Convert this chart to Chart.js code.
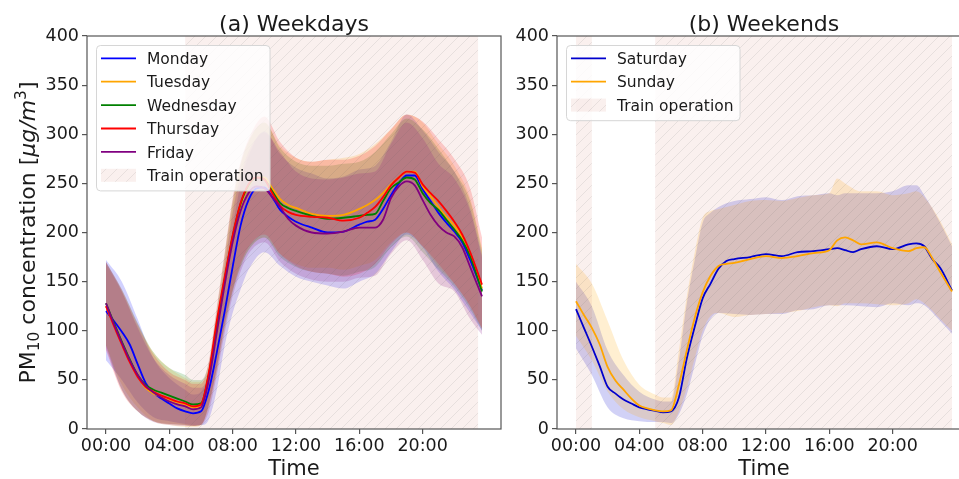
<!DOCTYPE html>
<html>
<head>
<meta charset="utf-8">
<title>PM10 daily profiles</title>
<script src="https://cdn.jsdelivr.net/npm/chart.js@4.4.1/dist/chart.umd.min.js"></script>
<style>
  html, body { margin: 0; padding: 0; background: #fff; overflow: hidden; }
  #wrap { position: relative; width: 959px; height: 479px; overflow: hidden; }
  #weekdays { position: absolute; left: 0; top: 0; width: 510px; height: 479px; }
  #weekends { position: absolute; left: 480px; top: 0; width: 500px; height: 479px; }
</style>
</head>
<body>
<div id="wrap">
  <canvas id="weekdays" width="510" height="479"></canvas>
  <canvas id="weekends" width="500" height="479"></canvas>
</div>
<script>
// hour of day for the mean curves (weekdays)
const weekdayHours = [0, 0.5, 1, 1.5, 2, 2.5, 3, 3.5, 4, 4.5, 5, 5.5, 6, 6.5, 7, 7.5, 8, 8.5, 9, 9.5, 10, 10.5, 11, 11.5, 12,
  13, 14, 15, 16, 16.5, 17, 17.5, 18, 18.5, 19, 19.5, 20, 20.5, 21, 21.5, 22, 22.5, 23, 23.75];

const monday = [120, 110, 99, 86, 66, 47, 37, 31, 26, 21, 18, 16, 18, 40, 78, 120, 165, 207, 233, 245, 246, 236, 223, 216, 211,
  205, 200, 201, 208, 211, 213, 224, 238, 250, 258, 258, 244, 232, 220, 210, 201, 190, 172, 141];
const tuesday = [125, 106, 87, 69, 54, 42, 36, 33, 30, 27, 25, 22, 24, 52, 100, 150, 193, 227, 247, 256, 256, 245, 234, 228, 225,
  219, 217, 218, 224, 228, 233, 240, 249, 256, 262, 262, 247, 237, 226, 216, 207, 195, 178, 143];
const wednesday = [128, 108, 89, 71, 55, 45, 40, 37, 34, 31, 28, 25, 26, 56, 106, 153, 196, 229, 248, 256, 254, 242, 230, 225, 222,
  217, 214, 215, 217, 218, 219, 232, 245, 251, 256, 254, 240, 230, 223, 213, 203, 192, 176, 140];
const thursday = [125, 105, 86, 68, 53, 43, 38, 34, 31, 28, 26, 23, 25, 58, 110, 155, 197, 230, 249, 256, 254, 240, 227, 221, 218,
  216, 215, 212, 215, 220, 226, 236, 248, 256, 262, 261, 249, 240, 232, 222, 211, 198, 180, 147];
const friday = [128, 107, 88, 70, 55, 44, 37, 32, 28, 25, 23, 20, 22, 50, 98, 147, 190, 222, 240, 247, 245, 236, 226, 214, 207,
  200, 199, 201, 205, 205, 205, 213, 235, 247, 252, 248, 233, 218, 207, 200, 196, 185, 165, 135];

// spread around the weekday means
const weekdayBandHours = [0, 1, 2, 3, 4, 5, 5.5, 6, 6.5, 7, 7.5, 8, 8.5, 9, 10, 11, 12, 13, 14, 15, 16, 17, 18, 19, 20, 21, 22, 23, 23.75];

const mondayUpper = [172, 150, 112, 72, 52, 40, 35, 38, 55, 100, 150, 205, 250, 278, 303, 280, 266, 260, 255, 257, 264, 268, 292, 320, 304, 282, 262, 225, 178];
const mondayLower = [70, 50, 27, 12, 8, 5, 4, 4, 10, 40, 85, 118, 142, 162, 180, 166, 155, 150, 146, 143, 150, 158, 180, 198, 185, 160, 142, 118, 100];
const tuesdayUpper = [168, 140, 105, 78, 62, 52, 48, 48, 62, 115, 172, 228, 268, 292, 312, 288, 276, 272, 274, 276, 280, 290, 305, 320, 312, 290, 268, 235, 185];
const tuesdayLower = [85, 45, 22, 8, 4, 2, 2, 4, 22, 58, 102, 140, 165, 182, 195, 178, 168, 164, 164, 162, 166, 172, 190, 200, 186, 165, 148, 125, 102];
const wednesdayUpper = [170, 142, 108, 78, 62, 55, 50, 50, 68, 122, 178, 232, 270, 293, 312, 286, 272, 268, 268, 270, 272, 282, 300, 316, 305, 285, 262, 232, 182];
const wednesdayLower = [85, 40, 18, 8, 5, 4, 3, 4, 25, 62, 105, 140, 165, 182, 195, 175, 165, 160, 158, 156, 160, 165, 185, 196, 180, 162, 145, 122, 100];
const thursdayUpper = [170, 142, 107, 76, 58, 50, 46, 46, 70, 125, 180, 235, 272, 295, 318, 292, 276, 272, 274, 274, 278, 288, 305, 320, 313, 295, 275, 245, 195];
const thursdayLower = [80, 38, 18, 8, 5, 4, 3, 4, 25, 62, 108, 142, 168, 185, 198, 178, 166, 160, 158, 155, 158, 168, 188, 200, 186, 168, 148, 125, 102];
const fridayUpper = [170, 140, 103, 72, 55, 46, 42, 42, 58, 110, 165, 220, 258, 282, 302, 282, 262, 255, 254, 256, 260, 262, 290, 312, 296, 270, 255, 222, 175];
const fridayLower = [82, 40, 18, 7, 4, 3, 3, 4, 18, 55, 98, 135, 160, 178, 190, 170, 158, 152, 150, 150, 154, 156, 178, 192, 172, 148, 140, 112, 96];

// weekend means
const weekendHours = [0, 0.5, 1, 1.5, 2, 2.5, 3, 3.5, 4, 4.5, 5, 5.5, 6, 6.5, 7, 7.5, 8, 8.5, 9, 9.5, 10,
  11, 12, 13, 14, 15, 16, 16.5, 17, 17.5, 18, 19, 20, 21, 21.5, 22, 22.5, 23, 23.75];

const saturday = [122, 103, 84, 64, 43, 36, 30, 26, 22, 20, 18.5, 17, 18, 32, 72, 104, 133, 148, 163, 171, 173,
  175, 178, 176, 180, 181, 183, 184, 182, 180, 183, 186, 183, 188, 189, 186, 173, 164, 141];
const sunday = [130, 116, 103, 86, 63, 49, 40, 31, 24, 21, 19, 18, 19, 45, 80, 113, 139, 156, 166, 168, 169,
  173, 176, 174, 176, 179, 182, 192, 195, 192, 188, 190, 184, 181, 184, 185, 174, 160, 140];

const weekendBandHours = [0, 1, 2, 3, 4, 5, 5.5, 6, 6.5, 7, 7.5, 8, 8.5, 9, 10, 11, 12, 13, 14, 15, 16, 16.5, 17, 18, 19, 20, 21, 21.5, 22, 23, 23.75];

const saturdayUpper = [150, 125, 80, 55, 38, 30, 28, 28, 70, 128, 172, 210, 220, 226, 232, 234, 236, 233, 237, 238, 240, 238, 240, 240, 240, 242, 248, 248, 238, 210, 186];
const saturdayLower = [82, 55, 22, 11, 8, 7, 7, 6, 15, 35, 65, 95, 112, 118, 117, 116, 117, 117, 121, 122, 126, 126, 126, 125, 124, 128, 126, 128, 126, 110, 97];
const sundayUpper = [168, 148, 110, 70, 45, 35, 32, 32, 80, 135, 180, 215, 222, 224, 228, 232, 233, 232, 235, 238, 240, 255, 250, 242, 242, 238, 240, 242, 236, 212, 188];
const sundayLower = [95, 70, 38, 20, 12, 8, 6, 4, 18, 42, 72, 100, 115, 118, 114, 116, 117, 118, 120, 124, 126, 125, 128, 128, 127, 126, 128, 132, 128, 112, 100];

// hours when trains run
const weekdayTrainHours = [[5, 23.5]];
const weekendTrainHours = [[0, 1], [5, 23.75]];

const hourTicks = [0, 4, 8, 12, 16, 20];

const weekdayNames = ["Monday", "Tuesday", "Wednesday", "Thursday", "Friday"];
const weekdayColors = ["#0000ff", "#ffa500", "#008000", "#ff0000", "#800080"];
const weekendNames = ["Saturday", "Sunday"];
const weekendColors = ["#0000cd", "#ffa500"];

const FONT = '"DejaVu Sans", sans-serif';
const TEXT = "#1a1a1a";
const SPINE = "#555555";
const SPAN_FILL = "rgba(195, 85, 65, 0.09)";
const BAND_ALPHA = 0.18;
const X_MIN = -1.2;
const X_MAX = 24.95;

Chart.defaults.font.family = FONT;

const hexToRgba = (hex, a) => {
  const n = parseInt(hex.slice(1), 16);
  return `rgba(${(n >> 16) & 255}, ${(n >> 8) & 255}, ${n & 255}, ${a})`;
};

const toPoints = (hours, values) => hours.map((h, i) => ({ x: h, y: values[i] }));

let hatchTile = null;
const hatchPattern = (ctx) => {
  if (!hatchTile) {
    const s = 11;
    hatchTile = document.createElement("canvas");
    hatchTile.width = s;
    hatchTile.height = s;
    const g = hatchTile.getContext("2d");
    g.strokeStyle = "rgba(90, 85, 85, 0.13)";
    g.lineWidth = 0.9;
    g.beginPath();
    g.moveTo(0, s);
    g.lineTo(s, 0);
    g.moveTo(-2, 2);
    g.lineTo(2, -2);
    g.moveTo(s - 2, s + 2);
    g.lineTo(s + 2, s - 2);
    g.stroke();
  }
  return ctx.createPattern(hatchTile, "repeat");
};

const fillSpan = (ctx, x, y, w, h) => {
  ctx.fillStyle = SPAN_FILL;
  ctx.fillRect(x, y, w, h);
  ctx.fillStyle = hatchPattern(ctx);
  ctx.fillRect(x, y, w, h);
};

const drawYTitle = (ctx, cx, cy) => {
  const size = 22;
  const parts = [
    { text: "PM", size, italic: false, dy: 0 },
    { text: "10", size: size * 0.7, italic: false, dy: size * 0.2 },
    { text: " concentration [", size, italic: false, dy: 0 },
    { text: "μg/m", size, italic: true, dy: 0 },
    { text: "3", size: size * 0.7, italic: false, dy: -size * 0.42 },
    { text: "]", size, italic: false, dy: 0 },
  ];
  const fontOf = (p) => `${p.italic ? "italic " : ""}${p.size}px ${FONT}`;
  let total = 0;
  parts.forEach((p) => {
    ctx.font = fontOf(p);
    p.w = ctx.measureText(p.text).width;
    total += p.w;
  });
  ctx.save();
  ctx.translate(cx, cy);
  ctx.rotate(-Math.PI / 2);
  ctx.fillStyle = TEXT;
  ctx.textBaseline = "alphabetic";
  ctx.textAlign = "left";
  let x = -total / 2;
  parts.forEach((p) => {
    ctx.font = fontOf(p);
    ctx.fillText(p.text, x, p.dy);
    x += p.w;
  });
  ctx.restore();
};

const drawLegend = (ctx, area, items) => {
  const size = 15.5;
  const rowH = 23.4;
  ctx.save();
  ctx.font = `${size}px ${FONT}`;
  const textW = Math.max(...items.map((it) => ctx.measureText(it.label).width));
  const bx = area.left + 9;
  const by = area.top + 9;
  const bw = 51 + textW + 6;
  const bh = items.length * rowH + 5;
  ctx.beginPath();
  ctx.roundRect(bx + 0.5, by + 0.5, bw, bh, 4);
  ctx.fillStyle = "rgba(255, 255, 255, 0.8)";
  ctx.fill();
  ctx.strokeStyle = "#d6d6d6";
  ctx.lineWidth = 1;
  ctx.stroke();
  items.forEach((it, i) => {
    const cy = by + 13.3 + i * rowH;
    if (it.color) {
      ctx.strokeStyle = it.color;
      ctx.lineWidth = 1.8;
      ctx.beginPath();
      ctx.moveTo(bx + 5, cy);
      ctx.lineTo(bx + 40, cy);
      ctx.stroke();
    } else {
      fillSpan(ctx, bx + 5, cy - 6.5, 35, 13);
    }
    ctx.fillStyle = TEXT;
    ctx.textBaseline = "alphabetic";
    ctx.fillText(it.label, bx + 51, cy + size * 0.37);
  });
  ctx.restore();
};

// train-operation shading goes over the bands but under the mean lines
const panelPlugin = {
  id: "panel",
  beforeDatasetsDraw(chart) {
    chart.$spanDone = false;
  },
  beforeDatasetDraw(chart, args, opts) {
    if (chart.$spanDone || !chart.data.datasets[args.index].isMean) return;
    chart.$spanDone = true;
    const { ctx, chartArea: a } = chart;
    const x = chart.scales.x;
    ctx.save();
    ctx.beginPath();
    ctx.rect(a.left, a.top, a.right - a.left, a.bottom - a.top);
    ctx.clip();
    opts.spans.forEach(([from, to]) => {
      const x0 = x.getPixelForValue(from);
      const x1 = x.getPixelForValue(to);
      fillSpan(ctx, x0, a.top, x1 - x0, a.bottom - a.top);
    });
    ctx.restore();
  },
  afterDatasetsDraw(chart) {
    const { ctx, chartArea: a } = chart;
    ctx.save();
    ctx.strokeStyle = SPINE;
    ctx.lineWidth = 1.2;
    ctx.strokeRect(a.left, a.top, a.right - a.left, a.bottom - a.top);
    ctx.restore();
  },
  afterDraw(chart, args, opts) {
    const { ctx, chartArea: a } = chart;
    const mid = (a.left + a.right) / 2;
    ctx.save();
    ctx.fillStyle = TEXT;
    ctx.textAlign = "center";
    ctx.textBaseline = "alphabetic";
    ctx.font = `22px ${FONT}`;
    ctx.fillText(opts.title, mid, a.top - 5.5);
    ctx.font = `21px ${FONT}`;
    ctx.fillText("Time", mid, a.bottom + 46);
    ctx.restore();
    if (opts.yTitle) drawYTitle(ctx, a.left - 52, (a.top + a.bottom) / 2);
    drawLegend(ctx, a, opts.legend);
  },
};

const buildDatasets = (days) => {
  const sets = [];
  days.forEach((d, i) => {
    const idx = sets.length;
    sets.push({
      label: `${d.name} upper`,
      data: toPoints(d.bandHours, d.upper),
      borderWidth: 0,
      borderColor: "rgba(0,0,0,0)",
      backgroundColor: hexToRgba(d.color, BAND_ALPHA),
      fill: idx + 1,
      order: 20 + days.length - i,
    });
    sets.push({
      label: `${d.name} lower`,
      data: toPoints(d.bandHours, d.lower),
      borderWidth: 0,
      borderColor: "rgba(0,0,0,0)",
      fill: false,
      order: 20 + days.length - i,
    });
  });
  days.forEach((d, i) => {
    sets.push({
      label: d.name,
      data: toPoints(d.hours, d.mean),
      borderColor: d.color,
      borderWidth: 1.8,
      fill: false,
      isMean: true,
      order: days.length - i,
    });
  });
  return sets;
};

const axisStyle = {
  display: true,
  drawOnChartArea: false,
  drawTicks: true,
  tickLength: 5,
  color: SPINE,
  lineWidth: 1.2,
};

const makeChart = (canvasId, days, yWidth, padRight, panel) =>
  new Chart(document.getElementById(canvasId), {
    type: "line",
    data: { datasets: buildDatasets(days) },
    plugins: [panelPlugin],
    options: {
      responsive: false,
      animation: false,
      events: [],
      layout: { padding: { top: 36, right: padRight, left: 0, bottom: 0 } },
      elements: {
        point: { radius: 0 },
        line: { cubicInterpolationMode: "monotone" },
      },
      scales: {
        x: {
          type: "linear",
          min: X_MIN,
          max: X_MAX,
          afterFit: (s) => { s.height = 50; },
          afterBuildTicks: (s) => { s.ticks = hourTicks.map((v) => ({ value: v })); },
          ticks: {
            callback: (v) => `${String(v).padStart(2, "0")}:00`,
            font: { size: 17.5 },
            color: TEXT,
            padding: 2,
            maxRotation: 0,
            autoSkip: false,
          },
          grid: axisStyle,
          border: { display: false },
        },
        y: {
          min: 0,
          max: 400,
          afterFit: (s) => { s.width = yWidth; },
          ticks: { stepSize: 50, font: { size: 17.5 }, color: TEXT, padding: 3 },
          grid: axisStyle,
          border: { display: false },
        },
      },
      plugins: {
        legend: { display: false },
        tooltip: { enabled: false },
        panel,
      },
    },
  });

const weekdayMeans = [monday, tuesday, wednesday, thursday, friday];
const weekdayUppers = [mondayUpper, tuesdayUpper, wednesdayUpper, thursdayUpper, fridayUpper];
const weekdayLowers = [mondayLower, tuesdayLower, wednesdayLower, thursdayLower, fridayLower];

const weekdays = weekdayNames.map((name, i) => ({
  name,
  color: weekdayColors[i],
  hours: weekdayHours,
  mean: weekdayMeans[i],
  bandHours: weekdayBandHours,
  upper: weekdayUppers[i],
  lower: weekdayLowers[i],
}));

const weekendMeans = [saturday, sunday];
const weekendUppers = [saturdayUpper, sundayUpper];
const weekendLowers = [saturdayLower, sundayLower];

const weekends = weekendNames.map((name, i) => ({
  name,
  color: weekendColors[i],
  hours: weekendHours,
  mean: weekendMeans[i],
  bandHours: weekendBandHours,
  upper: weekendUppers[i],
  lower: weekendLowers[i],
}));

const legendItems = (days) => [
  ...days.map((d) => ({ label: d.name, color: d.color })),
  { label: "Train operation" },
];

makeChart("weekdays", weekdays, 87, 9, {
  title: "(a) Weekdays",
  spans: weekdayTrainHours,
  legend: legendItems(weekdays),
  yTitle: true,
});

makeChart("weekends", weekends, 77, 9, {
  title: "(b) Weekends",
  spans: weekendTrainHours,
  legend: legendItems(weekends),
  yTitle: false,
});
</script>
</body>
</html>
